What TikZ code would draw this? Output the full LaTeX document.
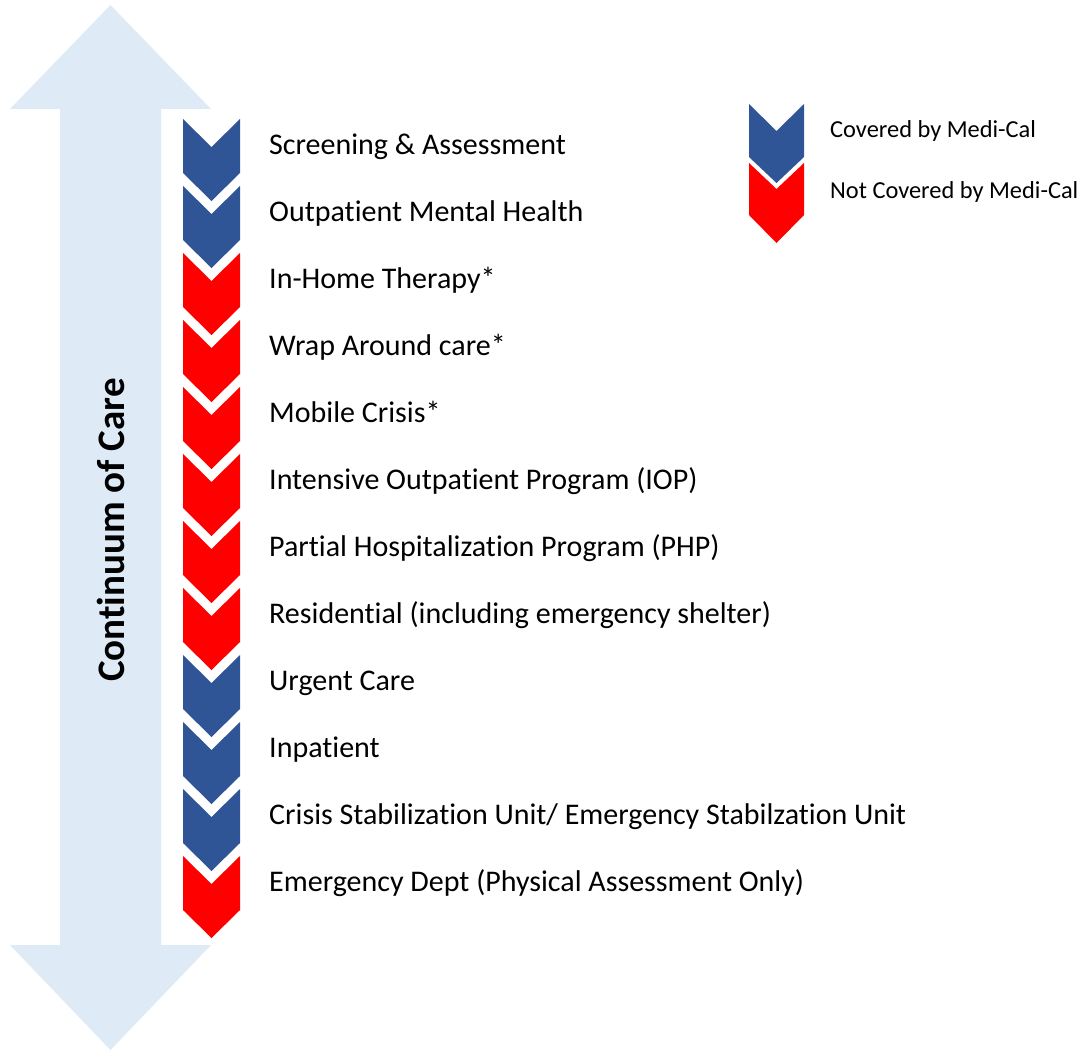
\documentclass[tikz,border=0pt]{standalone}
\usepackage{fontspec}
\setmainfont{Carlito}[Ligatures={NoCommon}]
\usepackage{tikz}
\definecolor{covblue}{HTML}{2F5597}
\definecolor{notred}{HTML}{FF0000}
\definecolor{palearrow}{HTML}{DEEAF6}

\begin{document}
\begin{tikzpicture}[
  x=1pt, y=-1pt,
  lbl/.style={anchor=base west, inner sep=0pt, font=\fontsize{30}{34}\selectfont},
  key/.style={anchor=base west, inner sep=0pt, font=\fontsize{24.4}{28}\selectfont},
  ttl/.style={rotate=90, inner sep=0pt, font=\fontsize{39}{44}\selectfont\bfseries}
]
\useasboundingbox (0,0) rectangle (1083,1051);
% Double arrow: continuum of care
\fill[palearrow] (110.5,5) -- (211,109) -- (161,109) -- (161,945) -- (211,945)
  -- (110.5,1050) -- (10,945) -- (60,945) -- (60,109) -- (10,109) -- cycle;
\node[ttl] (cont) at (111,530) {Continuum of Care};
% Chevron column with services
\foreach \i/\c/\t in {0/covblue/{Screening \& Assessment},
                      1/covblue/{Outpatient Mental Health},
                      2/notred/{In-Home Therapy*},
                      3/notred/{Wrap Around care*},
                      4/notred/{Mobile Crisis*},
                      5/notred/{Intensive Outpatient Program (IOP)},
                      6/notred/{Partial Hospitalization Program (PHP)},
                      7/notred/{Residential (including emergency shelter)},
                      8/covblue/{Urgent Care},
                      9/covblue/{Inpatient},
                      10/covblue/{Crisis Stabilization Unit/ Emergency Stabilzation Unit},
                      11/notred/{Emergency Dept (Physical Assessment Only)}} {
  \pgfmathsetmacro{\y}{119+67*\i}
  \fill[\c] (183,\y) -- (211.5,\y+28) -- (240,\y) -- (240,\y+54) -- (211.5,\y+82) -- (183,\y+54) -- cycle;
  \node[lbl] (svc\i) at (269,\y+35.5) {\t};
}
% Legend
\fill[covblue] (749,104) -- (776.5,131) -- (804,104) -- (804,157) -- (776.5,183) -- (749,157) -- cycle;
\fill[notred] (749,163) -- (776.5,189) -- (804,163) -- (804,215) -- (776.5,243) -- (749,215) -- cycle;
\node[key] (keycov) at (830,138) {Covered by Medi-Cal};
\node[key] (keynot) at (830,198) {Not Covered by Medi-Cal};
\end{tikzpicture}
\end{document}
